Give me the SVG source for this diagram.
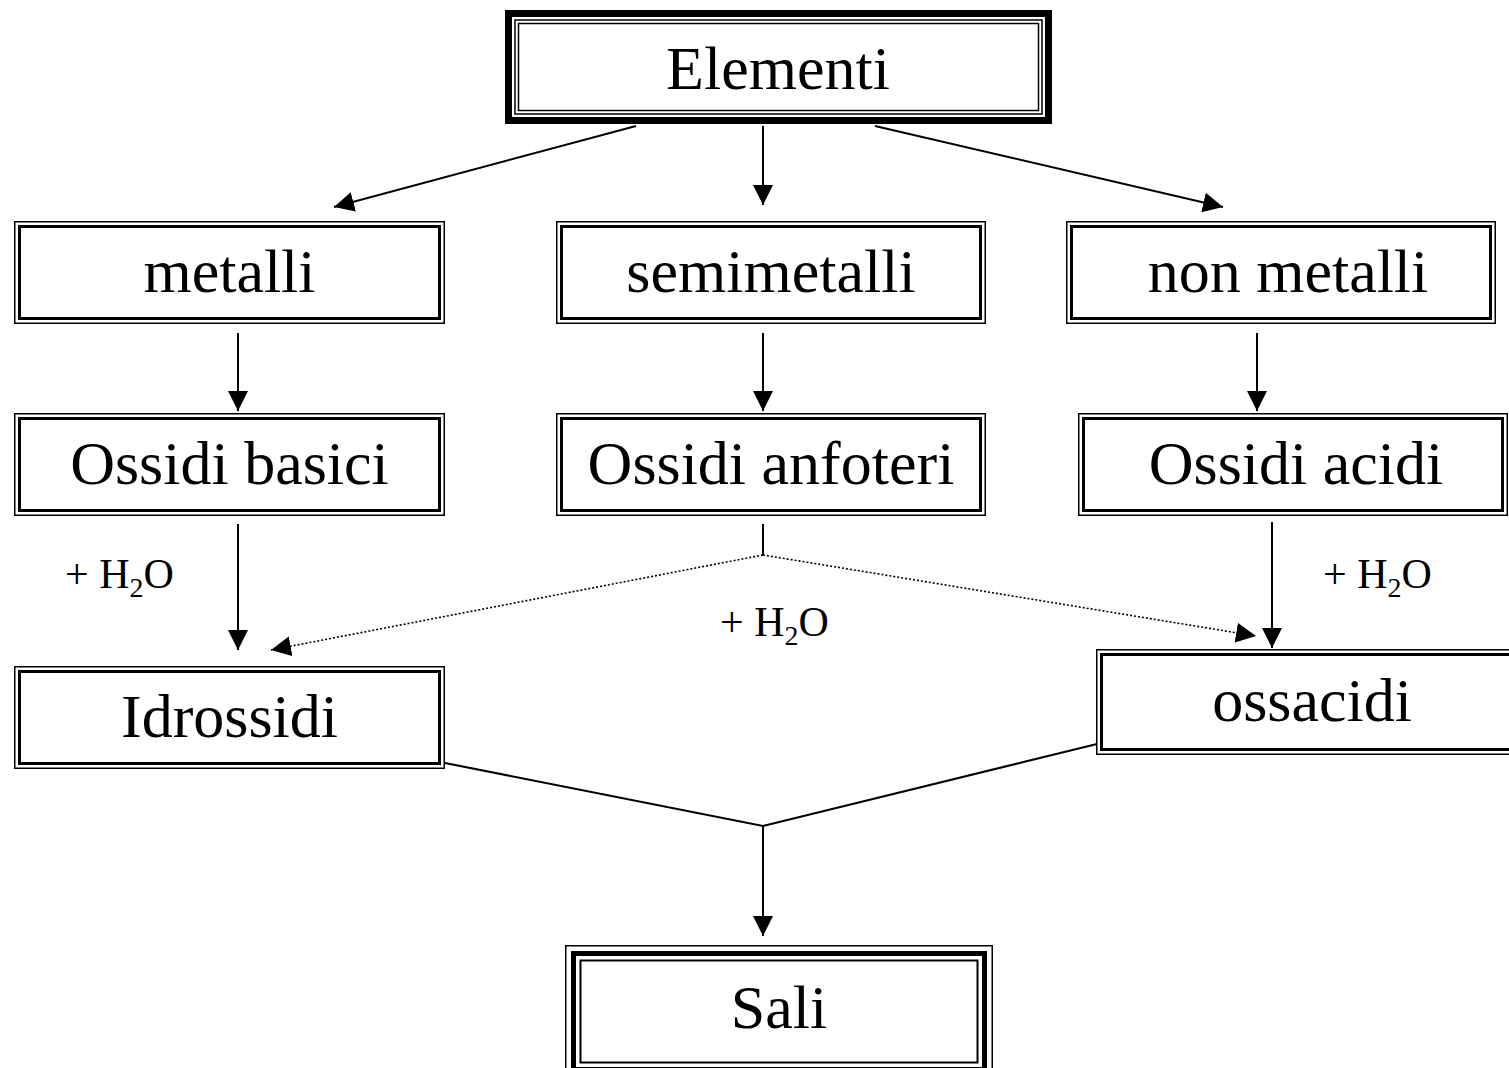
<svg xmlns="http://www.w3.org/2000/svg" width="1509" height="1068" viewBox="0 0 1509 1068">
<style>
.t{font-family:"Liberation Serif","Times New Roman",serif;font-size:62px;text-anchor:middle;fill:#000}
.l{font-family:"Liberation Serif","Times New Roman",serif;font-size:42px;fill:#000}
.o{fill:#fff;stroke:#000;stroke-width:1.5}
.i{fill:none;stroke:#000;stroke-width:3}
.c{fill:none;stroke:#000;stroke-width:2}
.d{fill:none;stroke:#000;stroke-width:1.6;stroke-dasharray:2 2}
</style>
<defs>
<marker id="ah" markerUnits="userSpaceOnUse" markerWidth="20" markerHeight="20" refX="20" refY="10" orient="auto" viewBox="0 0 20 20">
<path d="M0,0 L20,10 L0,20 z" fill="#000"/>
</marker>
</defs>
<rect width="1509" height="1068" fill="#fff"/>

<g id="connectors">
<line class="c" x1="636" y1="126" x2="334" y2="207" marker-end="url(#ah)"/>
<line class="c" x1="763" y1="126" x2="763" y2="205" marker-end="url(#ah)"/>
<line class="c" x1="875" y1="126" x2="1223" y2="207" marker-end="url(#ah)"/>
<line class="c" x1="238" y1="333" x2="238" y2="411" marker-end="url(#ah)"/>
<line class="c" x1="763" y1="333" x2="763" y2="411" marker-end="url(#ah)"/>
<line class="c" x1="1257" y1="333" x2="1257" y2="411" marker-end="url(#ah)"/>
<line class="c" x1="238" y1="524" x2="238" y2="650" marker-end="url(#ah)"/>
<line class="c" x1="1272" y1="522" x2="1272" y2="648" marker-end="url(#ah)"/>
<line class="c" x1="763" y1="524" x2="763" y2="555"/>
<line class="d" x1="763" y1="555" x2="271" y2="650" marker-end="url(#ah)"/>
<line class="d" x1="763" y1="555" x2="1256" y2="636" marker-end="url(#ah)"/>
<polyline class="c" points="445,763 763,826 1097,744"/>
<line class="c" x1="763" y1="826" x2="763" y2="936" marker-end="url(#ah)"/>
<text class="l" x="65" y="588">+ H<tspan font-size="28" dy="9">2</tspan><tspan dy="-9">O</tspan></text>
<text class="l" x="720" y="636">+ H<tspan font-size="28" dy="9">2</tspan><tspan dy="-9">O</tspan></text>
<text class="l" x="1323" y="588">+ H<tspan font-size="28" dy="9">2</tspan><tspan dy="-9">O</tspan></text>
</g>

<g id="elementi">
<rect x="508.5" y="13.5" width="540" height="107" fill="#fff" stroke="#000" stroke-width="7"/>
<rect x="515" y="20" width="527" height="94" fill="none" stroke="#000" stroke-width="1.5"/>
<rect x="518.5" y="23.5" width="520" height="87" fill="none" stroke="#000" stroke-width="1.5"/>
<text class="t" x="778" y="89">Elementi</text>
</g>

<g id="metalli">
<rect class="o" x="14.75" y="221.75" width="429.5" height="101.5"/>
<rect class="i" x="19.5" y="226.5" width="420" height="92"/>
<text class="t" x="229.5" y="292">metalli</text>
</g>

<g id="semimetalli">
<rect class="o" x="556.75" y="221.75" width="428.5" height="101.5"/>
<rect class="i" x="561.5" y="226.5" width="419" height="92"/>
<text class="t" x="771" y="292">semimetalli</text>
</g>

<g id="nonmetalli">
<rect class="o" x="1066.75" y="221.75" width="428.5" height="101.5"/>
<rect class="i" x="1071.5" y="226.5" width="419" height="92"/>
<text class="t" x="1288" y="292">non metalli</text>
</g>

<g id="ossidi-basici">
<rect class="o" x="14.75" y="413.75" width="429.5" height="101.5"/>
<rect class="i" x="19.5" y="418.5" width="420" height="92"/>
<text class="t" x="229.5" y="484">Ossidi basici</text>
</g>

<g id="ossidi-anfoteri">
<rect class="o" x="556.75" y="413.75" width="428.5" height="101.5"/>
<rect class="i" x="561.5" y="418.5" width="419" height="92"/>
<text class="t" x="771" y="484">Ossidi anfoteri</text>
</g>

<g id="ossidi-acidi">
<rect class="o" x="1078.75" y="413.75" width="428.5" height="101.5"/>
<rect class="i" x="1083.5" y="418.5" width="419" height="92"/>
<text class="t" x="1296" y="484">Ossidi acidi</text>
</g>

<g id="idrossidi">
<rect class="o" x="14.75" y="666.75" width="429.5" height="101.5"/>
<rect class="i" x="19.5" y="671.5" width="420" height="92"/>
<text class="t" x="229.5" y="737">Idrossidi</text>
</g>

<g id="ossacidi">
<rect class="o" x="1096.75" y="649.75" width="428.5" height="104.5"/>
<rect class="i" x="1101.5" y="654.5" width="419" height="95"/>
<text class="t" x="1312" y="721">ossacidi</text>
</g>

<g id="sali">
<rect x="565.75" y="945.75" width="426.5" height="131.5" fill="#fff" stroke="#000" stroke-width="1.5"/>
<rect x="573.5" y="953.5" width="411" height="116" fill="none" stroke="#000" stroke-width="5"/>
<rect x="580.5" y="960.5" width="397" height="102" fill="none" stroke="#000" stroke-width="2"/>
<text class="t" x="779" y="1028">Sali</text>
</g>
</svg>
